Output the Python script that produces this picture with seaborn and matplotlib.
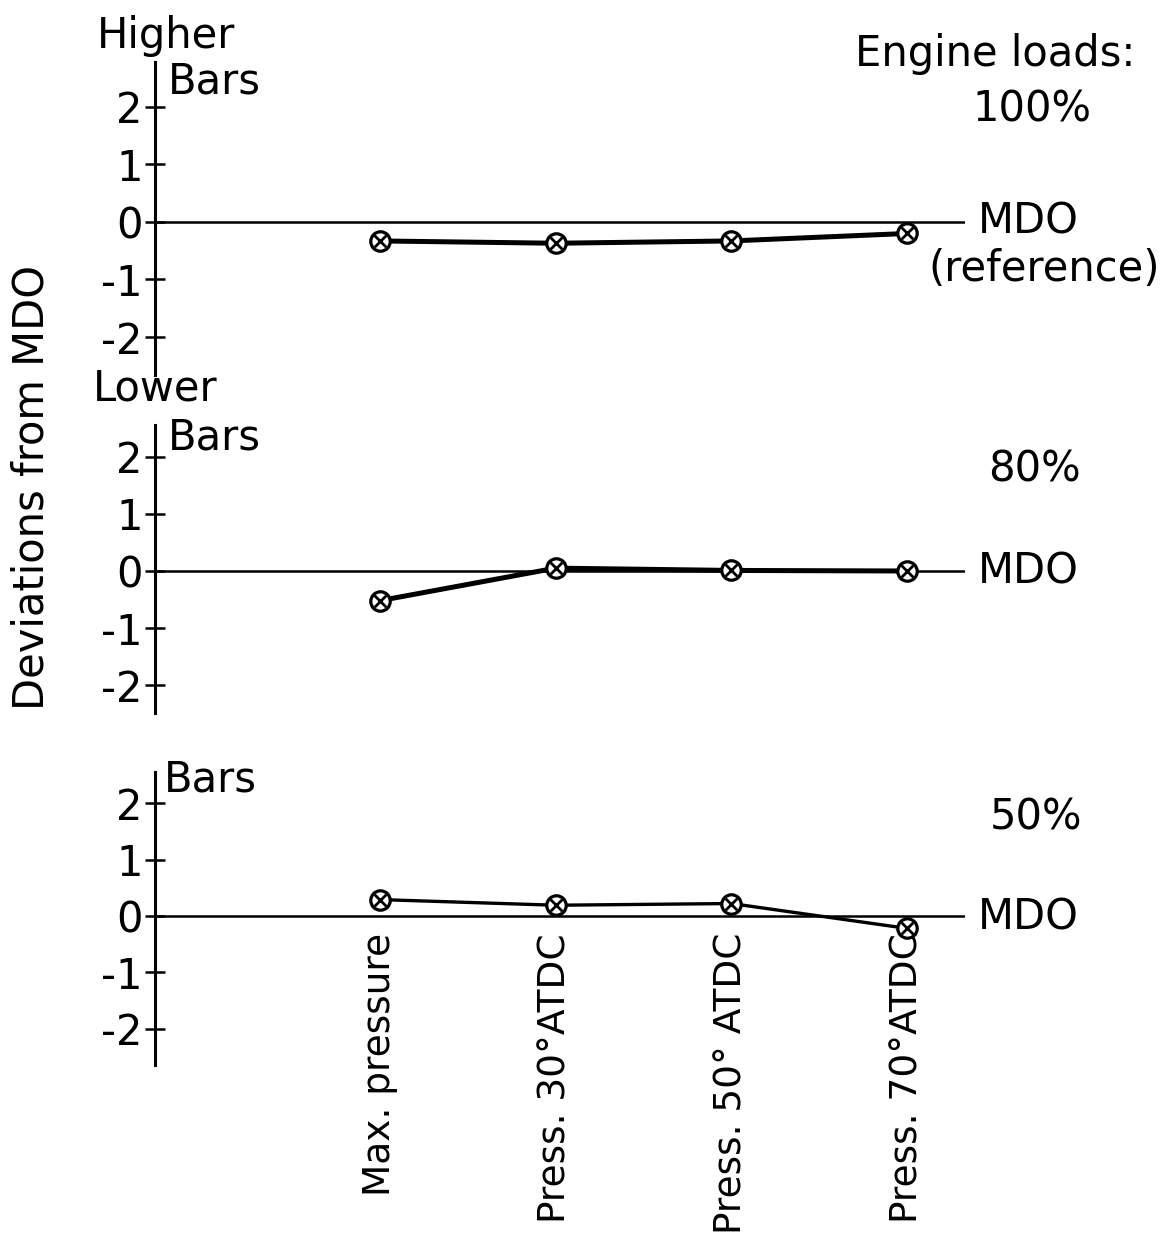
import matplotlib
matplotlib.use("Agg")
import matplotlib.pyplot as plt
import seaborn as sns
import pandas as pd

# ---- data ----
categories = ["Max. pressure", "Press. 30°ATDC", "Press. 50° ATDC", "Press. 70°ATDC"]
load_labels = ["100%", "80%", "50%"]
dev_100 = [-0.33, -0.37, -0.33, -0.20]
dev_80 = [-0.52, 0.05, 0.01, 0.0]
dev_50 = [0.29, 0.19, 0.22, -0.22]
y_ticks = [-2, -1, 0, 1, 2]

sns.set_style("white")
plt.rcParams["font.family"] = ["DejaVu Sans"]
FS = 30
FS_CAT = 27

W, H = 1168, 1246
fig = plt.figure(figsize=(W / 100, H / 100), dpi=100)


def fx(px):
    return px / W


def fy(py):
    return 1 - py / H


x_left, x_right = 155, 965
# (top px, bottom px, ylim, values, line width)
panels = [
    (62, 375, (-2.66, 2.78), dev_100, 3.6),
    (425, 713, (-2.49, 2.56), dev_80, 3.6),
    (772, 1065, (-2.64, 2.55), dev_50, 2.4),
]

positions = list(range(len(categories)))
axes = []
for top, bot, ylim, vals, lw in panels:
    ax = fig.add_axes([fx(x_left), fy(bot), (x_right - x_left) / W, (bot - top) / H])
    ax.set_facecolor("none")
    df = pd.DataFrame({"pos": positions, "dev": vals})
    ax.axhline(0, color="black", lw=1.8, zorder=1)
    sns.lineplot(data=df, x="pos", y="dev", ax=ax, color="black", lw=lw,
                 marker="o", markersize=14, markerfacecolor="white",
                 markeredgecolor="black", markeredgewidth=2.3, zorder=3)
    sns.scatterplot(data=df, x="pos", y="dev", ax=ax, marker="x", color="black",
                    s=70, linewidth=2.0, zorder=4)
    ax.set_xlim(-1.28, 3.33)
    ax.set_ylim(*ylim)
    ax.set_yticks(y_ticks)
    ax.set_yticklabels([str(t) for t in y_ticks], fontsize=FS)
    ax.set_xticks([])
    ax.set_xlabel("")
    ax.set_ylabel("")
    for s in ["top", "right", "bottom"]:
        ax.spines[s].set_visible(False)
    ax.spines["left"].set_linewidth(2.2)
    ax.spines["left"].set_color("black")
    ax.tick_params(axis="y", direction="inout", length=14, width=1.8, pad=2,
                   colors="black", left=True)
    axes.append(ax)

# category labels under the bottom panel
for p, lab in zip(positions, categories):
    axes[2].text(p, -0.30, lab, rotation=90, ha="center", va="top",
                 fontsize=FS_CAT, color="black", clip_on=False)


def t(px, py, s, **kw):
    fig.text(fx(px), fy(py), s, fontsize=FS, color="black", **kw)


t(97, 48, "Higher", ha="left", va="baseline")
t(168, 93, "Bars", ha="left", va="baseline")
t(93, 400, "Lower", ha="left", va="baseline")
t(168, 449, "Bars", ha="left", va="baseline")
t(164, 791, "Bars", ha="left", va="baseline")

t(855, 66, "Engine loads:", ha="left", va="baseline")
t(972, 121, load_labels[0], ha="left", va="baseline")
t(988, 481, load_labels[1], ha="left", va="baseline")
t(990, 829, load_labels[2], ha="left", va="baseline")

t(978, 222, "MDO", ha="left", va="center")
t(928, 281, "(reference)", ha="left", va="baseline")
t(978, 572, "MDO", ha="left", va="center")
t(978, 918, "MDO", ha="left", va="center")

t(32, 487, "Deviations from MDO", ha="center", va="center", rotation=90)

fig.savefig("out.png", dpi=100, facecolor="white")
